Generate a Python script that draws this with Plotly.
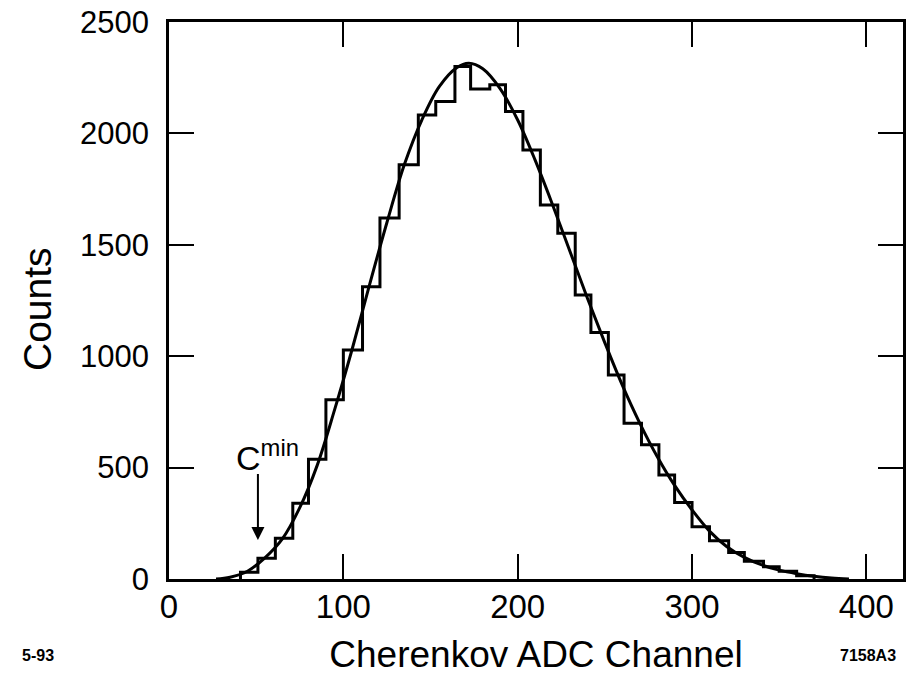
import plotly.graph_objects as go

# Histogram bin edges (ADC channel) and counts per bin
bin_edges = [41, 51, 61, 71, 80, 90, 100, 111, 121, 132, 143, 153, 164, 173, 184, 193,
             203, 213, 223, 233, 242, 252, 261, 271, 281, 290, 300, 310, 321, 330, 341,
             350, 360, 370]
bin_counts = [30, 93, 183, 340, 538, 804, 1028, 1312, 1620, 1859, 2083, 2143, 2300, 2199,
              2218, 2098, 1926, 1679, 1552, 1275, 1106, 916, 699, 602, 467, 343, 235, 172,
              119, 80, 55, 35, 15]

# Fitted curve, points
fit_x = [27, 35, 45, 55, 65, 75, 85, 95, 105, 115, 125, 135, 145, 155, 165, 172, 180,
         190, 200, 210, 220, 230, 240, 250, 260, 270, 280, 290, 300, 310, 320, 330, 340,
         350, 360, 370, 380, 390]
fit_y = [0, 8, 35, 95, 180, 320, 510, 760, 1030, 1320, 1600, 1860, 2060, 2210, 2295, 2315,
         2290, 2200, 2060, 1880, 1680, 1470, 1260, 1060, 870, 700, 550, 420, 310, 215, 145,
         97, 63, 40, 24, 12, 4, 0]

x_ticks = [0, 100, 200, 300, 400]
y_ticks = [0, 500, 1000, 1500, 2000, 2500]

# C_min marker (channel, arrow tail and tip in counts)
cmin_channel = 51
cmin_arrow_top = 480
cmin_arrow_tip = 175

FONT = "Liberation Sans, Arial, Helvetica, sans-serif"

# plot area in page pixels (used only to place free text relative to the axes)
PL, PR, PT, PB = 169, 903, 22, 579
PW, PH = PR - PL, PB - PT

step_x = [bin_edges[0]] + bin_edges
step_y = [0] + bin_counts + [0]

fig = go.Figure()
fig.add_trace(go.Scatter(x=step_x, y=step_y, mode="lines", line_shape="hv",
                         line=dict(color="black", width=3), showlegend=False,
                         hoverinfo="skip"))
fig.add_trace(go.Scatter(x=fit_x, y=fit_y, mode="lines", line_shape="spline",
                         line=dict(color="black", width=3), showlegend=False,
                         hoverinfo="skip"))

fig.add_annotation(x=cmin_channel, y=cmin_arrow_tip, ax=cmin_channel, ay=cmin_arrow_top,
                   xref="x", yref="y", axref="x", ayref="y", text=" ",
                   font=dict(size=1), showarrow=True, arrowhead=2, arrowsize=1.3,
                   arrowwidth=2, arrowcolor="black")
fig.add_annotation(x=cmin_channel + 5.5, y=cmin_arrow_top - 30, xref="x", yref="y",
                   text="C<sup>min</sup>", showarrow=False, yanchor="bottom",
                   xanchor="center", font=dict(family=FONT, size=34, color="black"))

fig.add_annotation(x=(37 - PL) / PW, y=(PB - 309) / PH, xref="paper", yref="paper",
                   text="Counts", textangle=-90, showarrow=False, xanchor="center",
                   yanchor="middle", font=dict(family=FONT, size=39, color="black"))

fig.add_annotation(x=(20 - PL) / PW, y=-(655 - PB) / PH, xref="paper",
                   yref="paper", xanchor="left", yanchor="middle", text="<b>5-93</b>",
                   showarrow=False, font=dict(family=FONT, size=16, color="black"))
fig.add_annotation(x=(838 - PL) / PW, y=-(655 - PB) / PH, xref="paper",
                   yref="paper", xanchor="left", yanchor="middle", text="<b>7158A3</b>",
                   showarrow=False, font=dict(family=FONT, size=16, color="black"))

fig.update_layout(
    width=914, height=698,
    margin=dict(l=PL, r=914 - PR, t=PT, b=698 - PB, autoexpand=False),
    paper_bgcolor="white", plot_bgcolor="white",
    font=dict(family=FONT, size=31, color="black"),
    xaxis=dict(range=[0, 421], tickvals=x_ticks, ticks="inside", ticklen=25,
               tickwidth=2, tickcolor="black", showline=True, linewidth=2.5,
               linecolor="black", mirror="ticks", showgrid=False, zeroline=False,
               ticklabelstandoff=-3, automargin=False, ticklabeloverflow="allow",
               tickfont=dict(family=FONT, size=33),
               title=dict(text="Cherenkov ADC Channel", standoff=17,
                          font=dict(family=FONT, size=37))),
    yaxis=dict(range=[0, 2500], tickvals=y_ticks, ticks="inside", ticklen=25,
               tickwidth=2, tickcolor="black", showline=True, linewidth=2.5,
               linecolor="black", mirror="ticks", showgrid=False, zeroline=False,
               ticklabelstandoff=11, automargin=False, ticklabeloverflow="allow",
               tickfont=dict(family=FONT, size=31)),
)

# remove the page's default 8px body margin so the figure fills the window exactly
fig.write_html("out.html", config={"displayModeBar": False},
               post_script="document.body.style.margin='0';")
